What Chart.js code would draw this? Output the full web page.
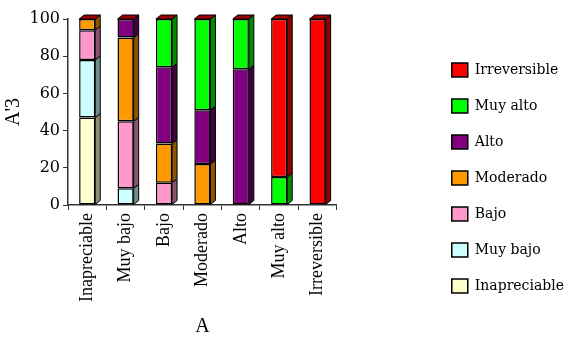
<!DOCTYPE html>
<html lang="es">
<head>
<meta charset="UTF-8">
<title>A'3 según A</title>
<script src="https://cdn.jsdelivr.net/npm/chart.js"></script>
<style>
  html, body { margin: 0; padding: 0; background: #fff; }
  #caja { width: 574px; height: 347px; position: relative; }
</style>
</head>
<body>
<div id="caja"><canvas id="grafico"></canvas></div>
<script>
// datos (porcentajes apilados)
var categorias   = ['Inapreciable', 'Muy bajo', 'Bajo', 'Moderado', 'Alto', 'Muy alto', 'Irreversible'];
var inapreciable = [47,  0,  0,  0,  0,  0,   0];
var muyBajo      = [31,  9,  0,  0,  0,  0,   0];
var bajo         = [16, 36, 12,  0,  0,  0,   0];
var moderado     = [ 6, 45, 21, 22,  0,  0,   0];
var alto         = [ 0, 10, 41, 29, 73,  0,   0];
var muyAlto      = [ 0,  0, 26, 49, 27, 15,   0];
var irreversible = [ 0,  0,  0,  0,  0, 85, 100];
var ticksY       = [0, 20, 40, 60, 80, 100];

var series  = ['Inapreciable', 'Muy bajo', 'Bajo', 'Moderado', 'Alto', 'Muy alto', 'Irreversible'];
var valores = [inapreciable, muyBajo, bajo, moderado, alto, muyAlto, irreversible];
var colores = ['#FFFFCC', '#CCFFFF', '#FF99CC', '#FF9900', '#800080', '#00FF00', '#FF0000'];

var serif = "'Liberation Serif', 'Times New Roman', serif";
var serifAncha = "'DejaVu Serif', serif";

function oscurecer(hex, f) {
    var n = parseInt(hex.slice(1), 16);
    var r = Math.round(((n >> 16) & 255) * f);
    var g = Math.round(((n >> 8) & 255) * f);
    var b = Math.round((n & 255) * f);
    return 'rgb(' + r + ',' + g + ',' + b + ')';
}

// efecto 3D: cara lateral y cara superior de cada columna
var efecto3D = {
    id: 'efecto3D',
    afterDatasetsDraw: function(chart) {
        var ctx = chart.ctx;
        var dx = 5, dy = 4;
        ctx.save();
        ctx.lineWidth = 1;
        ctx.strokeStyle = '#000';
        var ultimo = [];
        chart.data.datasets.forEach(function(ds, i) {
            var meta = chart.getDatasetMeta(i);
            meta.data.forEach(function(bar, j) {
                if (!ds.data[j]) return;
                var p = bar.getProps(['x', 'y', 'base', 'width'], true);
                var der = p.x + p.width / 2;
                ctx.beginPath();
                ctx.moveTo(der, p.y);
                ctx.lineTo(der + dx, p.y - dy);
                ctx.lineTo(der + dx, p.base - dy);
                ctx.lineTo(der, p.base);
                ctx.closePath();
                ctx.fillStyle = oscurecer(ds.backgroundColor, 0.55);
                ctx.fill();
                ctx.stroke();
                ultimo[j] = p;
            });
        });
        ultimo.forEach(function(p) {
            if (!p) return;
            var izq = p.x - p.width / 2, der = p.x + p.width / 2;
            ctx.beginPath();
            ctx.moveTo(izq, p.y);
            ctx.lineTo(izq + dx, p.y - dy);
            ctx.lineTo(der + dx, p.y - dy);
            ctx.lineTo(der, p.y);
            ctx.closePath();
            ctx.fillStyle = '#990000';
            ctx.fill();
            ctx.stroke();
        });
        ctx.restore();
    }
};

var conjuntos = series.map(function(nombre, i) {
    return {
        label: nombre,
        data: valores[i],
        backgroundColor: colores[i],
        borderColor: '#000',
        borderWidth: 1.5,
        borderSkipped: false,
        barPercentage: 0.42,
        categoryPercentage: 1
    };
});

var ctx = document.getElementById('grafico').getContext('2d');
new Chart(ctx, {
    type: 'bar',
    data: { labels: categorias, datasets: conjuntos },
    plugins: [efecto3D],
    options: {
        responsive: true,
        maintainAspectRatio: false,
        animation: false,
        layout: { padding: { top: 19, right: 0, left: 0, bottom: 10 } },
        plugins: {
            tooltip: { enabled: false },
            legend: {
                position: 'right',
                reverse: true,
                maxWidth: 200,
                labels: {
                    color: '#000',
                    boxWidth: 16,
                    boxHeight: 14,
                    padding: 22,
                    font: { family: serifAncha, size: 14 }
                }
            }
        },
        scales: {
            x: {
                stacked: true,
                grid: { display: true, drawOnChartArea: false, offset: true, tickLength: 5, color: '#333' },
                border: { display: true, color: '#333', width: 1.5 },
                ticks: { color: '#000', minRotation: 90, maxRotation: 90, padding: 3, font: { family: serif, size: 18 } },
                title: { display: true, text: 'A', color: '#000', padding: { top: 0, bottom: 0 }, font: { family: serif, size: 20, lineHeight: 1 } },
                afterFit: function(s) { s.height = 132; }
            },
            y: {
                stacked: true,
                min: 0,
                max: 100,
                afterBuildTicks: function(s) { s.ticks = ticksY.map(function(v) { return { value: v }; }); },
                grid: { display: true, drawOnChartArea: false, tickLength: 5, color: '#333' },
                border: { display: true, color: '#333', width: 1.5 },
                ticks: { color: '#000', padding: 3, font: { family: serifAncha, size: 16 } },
                title: { display: true, text: "A'3", color: '#000', padding: { top: 2, bottom: 0 }, font: { family: serif, size: 20 } },
                afterFit: function(s) { s.width = 68; }
            },
            derecha: {
                type: 'linear',
                position: 'right',
                display: true,
                grid: { display: false },
                border: { display: false },
                ticks: { display: false },
                afterFit: function(s) { s.width = 93; }
            }
        }
    }
});
</script>
</body>
</html>
